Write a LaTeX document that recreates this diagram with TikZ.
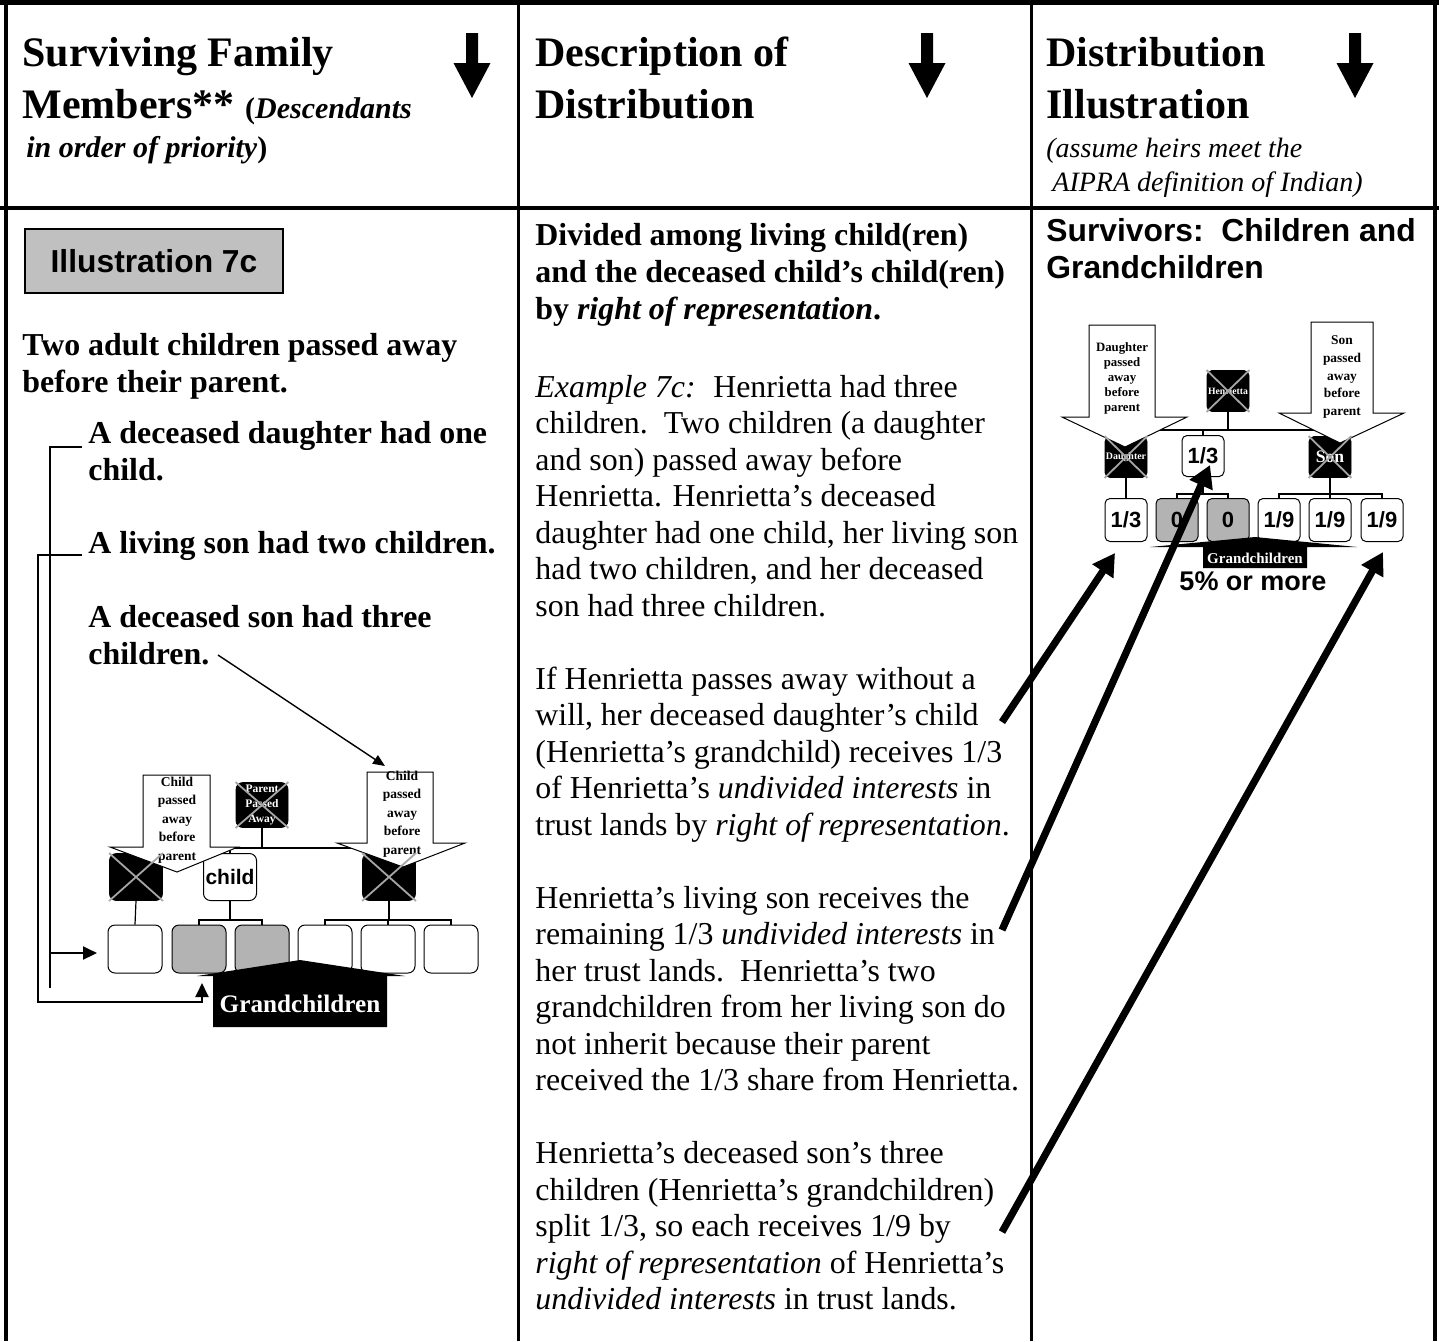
\documentclass[tikz,border=0pt]{standalone}
\usepackage{fontspec}
\setmainfont{Liberation Serif}
\newfontfamily\arialfont{Liberation Sans}
\usetikzlibrary{arrows.meta}

\definecolor{illgray}{HTML}{C0C0C0}
\definecolor{kidgray}{HTML}{B3B3B3}
\definecolor{xgray}{HTML}{A6A6A6}

\tikzset{
  headtext/.style={anchor=base west, align=left, inner sep=0pt, font=\bfseries\fontsize{21}{26}\selectfont},
  bodytext/.style={anchor=base west, align=left, inner sep=0pt, font=\fontsize{15.95}{18.25}\selectfont},
  bodybold/.style={bodytext, font=\bfseries\fontsize{15.95}{18.45}\selectfont},
  deadbox/.style={draw=black, fill=black, text=white, align=center, inner sep=0pt},
  livebox/.style={draw=black, fill=white, inner sep=0pt, line width=0.5pt},
  shadebox/.style={livebox, fill=kidgray},
  lbox/.style={rounded corners=3.5pt, minimum width=26.5pt, minimum height=23.5pt},
  lgbox/.style={rounded corners=3.5pt, minimum width=27pt, minimum height=24pt},
  rbox/.style={rounded corners=2.5pt, minimum width=21pt, minimum height=20.5pt},
  rgbox/.style={rounded corners=2.5pt, minimum width=21pt, minimum height=21.5pt, font=\arialfont\bfseries\fontsize{11}{12}\selectfont},
  callout/.style={draw=black, fill=white, line width=0.5pt},
  calltext/.style={align=center, inner sep=0pt, font=\bfseries\fontsize{6.75}{9.25}\selectfont},
  xmark/.style={draw=xgray, line width=0.9pt},
  bracket/.style={line width=1pt},
  bracketarrow/.style={bracket, -{Triangle[length=7pt,width=6.5pt]}},
  pointer/.style={line width=0.7pt, -{Triangle[length=6pt,width=5pt]}},
  bigarrow/.style={line width=3.6pt, -{Triangle[length=11pt,width=12pt]}},
  treeline/.style={line width=0.6pt},
  barline/.style={line width=1.1pt},
}

\begin{document}
\begin{tikzpicture}[x=0.5pt,y=-0.5pt]
\useasboundingbox (0,0) rectangle (1439,1341);

% table frame
\draw[line width=2.5pt] (0,2.5) -- (1439,2.5);
\draw[line width=2pt] (5.5,0) -- (5.5,1341);
\draw[line width=2pt] (1434.5,0) -- (1434.5,1341);
\draw[line width=1.5pt] (518,0) -- (518,1341);
\draw[line width=1.5pt] (1031,0) -- (1031,1341);
\draw[line width=2pt] (0,208) -- (1439,208);

% header row (multi-line nodes sit on their last baseline)
\node[headtext] (hsurv) at (22,118) {Surviving Family\\Members** {\fontsize{15}{18}\selectfont(\textit{Descendants}}};
\node[anchor=base west, inner sep=0pt, font=\bfseries\fontsize{15}{18}\selectfont] (hprio) at (26,157) {\textit{in order of priority})};
\node[headtext] (hdesc) at (535,118) {Description of\\Distribution};
\node[headtext] (hdist) at (1046,118) {Distribution\\Illustration};
\node[anchor=base west, align=left, inner sep=0pt, font=\itshape\fontsize{14}{16.6}\selectfont] (hassume) at (1046,191) {(assume heirs meet the\\\hspace*{3pt}AIPRA definition of Indian)};
\foreach \cx in {472,927,1355}
  \fill ({\cx-6},33) -- ({\cx+6},33) -- ({\cx+6},63) -- ({\cx+18.5},63) -- (\cx,98) -- ({\cx-18.5},63) -- ({\cx-6},63) -- cycle;

% column 1
\node[draw=black, line width=0.6pt, fill=illgray, minimum width=129pt, minimum height=32pt, font=\arialfont\bfseries\fontsize{15.9}{18}\selectfont] (illus) at (154,261) {Illustration 7c};
\node[bodybold] (twoadult) at (22,392) {Two adult children passed away\\before their parent.};
\node[bodybold] (qdau) at (88,480) {A deceased daughter had one\\child.};
\node[bodybold] (qliv) at (88,553) {A living son had two children.};
\node[bodybold] (qson) at (88,664) {A deceased son had three\\children.};

% left tree
\node[deadbox, lbox, minimum width=26pt, minimum height=22.5pt, font=\bfseries\fontsize{5.75}{7.5}\selectfont] (lpar) at (262,805) {Parent\\Passed\\Away};
\node[deadbox, lbox] (ldau) at (136,877) {};
\node[livebox, lbox, font=\arialfont\bfseries\fontsize{10.5}{12}\selectfont] (lkid) at (230,877) {child};
\node[deadbox, lbox] (lson) at (389,877) {};
\foreach \i/\gx/\st in {1/135/livebox,2/199/shadebox,3/262/shadebox,4/325/livebox,5/388/livebox,6/451/livebox}
  \node[\st, lgbox] (lg\i) at (\gx,949) {};

\coordinate (lbar) at (262,848);
\coordinate (lmid) at (0,920);
\draw[barline] (lpar.south) -- (lbar);
\draw[barline] (ldau.north |- lbar) -- (lson.north |- lbar);
\draw[treeline] (ldau.north |- lbar) -- (ldau.north) (lkid.north |- lbar) -- (lkid.north) (lson.north |- lbar) -- (lson.north);
\draw[treeline] (ldau.south) -- (lg1.north);
\draw[treeline] (lkid.south) -- (lkid.south |- lmid);
\draw[treeline] (lg2.north) |- (lmid -| lg3.north) -- (lg3.north);
\draw[treeline] (lson.south) -- (lson.south |- lmid);
\draw[treeline] (lg4.north) |- (lmid -| lg6.north) -- (lg6.north);
\draw[treeline] (lg5.north) -- (lmid -| lg5.north);

\draw[callout] (143,775) -- (210,775) -- (210,847) -- (238,847) -- (177,872) -- (110,847) -- (143,847) -- cycle;
\draw[callout] (367,772) -- (433,772) -- (433,843) -- (465,843) -- (403,867) -- (337,843) -- (367,843) -- cycle;
\node[calltext] (lcalA) at (177,820) {Child\\passed\\away\\before\\parent};
\node[calltext] (lcalB) at (402,814) {Child\\passed\\away\\before\\parent};

\fill (213,1027) -- (213,976) -- (197,976) -- (300,960) -- (405,976) -- (387,976) -- (387,1027) -- cycle;
\node[anchor=base, text=white, font=\bfseries\fontsize{12.6}{14}\selectfont] (lgrand) at (300,1012) {Grandchildren};

% brackets from the text to the tree
\coordinate (bdA) at (82,447);
\coordinate (bdB) at (82,555);
\coordinate (brA) at (50,953);
\coordinate (tipA) at (97,953);
\coordinate (tipB) at (202,983);
\draw[bracket] (bdA) -| (50,988);
\draw[bracketarrow] (brA) -- (tipA);
\draw[bracketarrow] (bdB) -| (38,1002) -| (tipB);
\coordinate (ptA) at (218,655);
\coordinate (ptB) at (385,766);
\draw[pointer] (ptA) -- (ptB);

% column 2
\node[bodybold] (pdiv) at (535,319) {Divided among living child(ren)\\and the deceased child’s child(ren)\\by \textit{right of representation}.};
\node[bodytext] (pex) at (535,616) {\textit{Example 7c:}\hspace{0.55em}Henrietta had three\\children.\ \ Two children (a daughter\\and son) passed away before\\Henrietta. Henrietta’s deceased\\daughter had one child, her living son\\had two children, and her deceased\\son had three children.};
\node[bodytext] (pif) at (535,835) {If Henrietta passes away without a\\will, her deceased daughter’s child\\(Henrietta’s grandchild) receives 1/3\\of Henrietta’s \textit{undivided interests} in\\trust lands by \textit{right of representation}.};
\node[bodytext] (pliv) at (535,1090.5) {Henrietta’s living son receives the\\remaining 1/3 \textit{undivided interests} in\\her trust lands.\ \ Henrietta’s two\\grandchildren from her living son do\\not inherit because their parent\\received the 1/3 share from Henrietta.};
\node[bodytext] (pson) at (535,1309.5) {Henrietta’s deceased son’s three\\children (Henrietta’s grandchildren)\\split 1/3, so each receives 1/9 by\\\textit{right of representation} of Henrietta’s\\\textit{undivided interests} in trust lands.};

% column 3
\node[anchor=base west, align=left, inner sep=0pt, font=\arialfont\bfseries\fontsize{15.9}{18.45}\selectfont] (surv) at (1046,278) {Survivors:\ \ Children and\\Grandchildren};

\node[deadbox, rbox, font=\bfseries\fontsize{4.85}{5}\selectfont] (rhen) at (1228,391) {Henrietta};
\node[deadbox, rbox, font=\bfseries\fontsize{4.95}{5}\selectfont] (rdau) at (1126,457) {Daughter};
\node[livebox, rbox, font=\arialfont\bfseries\fontsize{11}{12}\selectfont] (rkid) at (1203,456) {1/3};
\node[deadbox, rbox, font=\bfseries\fontsize{8.8}{9}\selectfont] (rson) at (1330,457) {Son};
\node[livebox, rgbox] (rg1) at (1126,520) {1/3};
\node[shadebox, rgbox] (rg2) at (1177,520) {0};
\node[shadebox, rgbox] (rg3) at (1228,520) {0};
\node[livebox, rgbox] (rg4) at (1279,520) {1/9};
\node[livebox, rgbox] (rg5) at (1330,520) {1/9};
\node[livebox, rgbox] (rg6) at (1382,520) {1/9};

\coordinate (rbar) at (1228,430);
\coordinate (rmid) at (0,494);
\draw[barline] (rhen.south) -- (rbar);
\draw[barline] (rdau.north |- rbar) -- (rson.north |- rbar);
\draw[treeline] (rdau.north |- rbar) -- (rdau.north) (rkid.north |- rbar) -- (rkid.north) (rson.north |- rbar) -- (rson.north);
\draw[treeline] (rdau.south) -- (rg1.north);
\draw[treeline] (rkid.south) -- (rkid.south |- rmid);
\draw[treeline] (rg2.north) |- (rmid -| rg3.north) -- (rg3.north);
\draw[treeline] (rson.south) -- (rson.south |- rmid);
\draw[treeline] (rg4.north) |- (rmid -| rg6.north) -- (rg6.north);
\draw[treeline] (rg5.north) -- (rmid -| rg5.north);

\draw[callout] (1089,325) -- (1155,325) -- (1155,417) -- (1187,417) -- (1125,447) -- (1062,417) -- (1089,417) -- cycle;
\draw[callout] (1311,322) -- (1373,322) -- (1373,413) -- (1404,413) -- (1340,443) -- (1279,413) -- (1311,413) -- cycle;
\node[calltext, font=\bfseries\fontsize{6.4}{7.5}\selectfont] (rcalA) at (1122,378) {Daughter\\passed\\away\\before\\parent};
\node[calltext, font=\bfseries\fontsize{6.7}{8.85}\selectfont] (rcalB) at (1342,377) {Son\\passed\\away\\before\\parent};

\fill (1150,547) -- (1255,537) -- (1357,547) -- (1307,547) -- (1307,568) -- (1203,568) -- (1203,547) -- cycle;
\node[anchor=base, text=white, font=\bfseries\fontsize{7.5}{8}\selectfont] (rgrand) at (1255,563) {Grandchildren};
\node[anchor=base, font=\arialfont\bfseries\fontsize{13.5}{15}\selectfont] (five) at (1253,590) {5\% or more};

% crosses over the deceased
\foreach \n in {lpar,ldau,lson,rhen,rdau,rson}
  \draw[xmark] (\n.north west) -- (\n.south east) (\n.north east) -- (\n.south west);

% pointers from the text to the shares
\coordinate (fromA) at (1002,722);
\coordinate (toA) at (1115,553);
\coordinate (fromB) at (1002,930);
\coordinate (toB) at (1210,465);
\coordinate (fromC) at (1002,1232);
\coordinate (toC) at (1383,552);
\draw[bigarrow] (fromA) -- (toA);
\draw[bigarrow] (fromB) -- (toB);
\draw[bigarrow] (fromC) -- (toC);
\end{tikzpicture}
\end{document}
